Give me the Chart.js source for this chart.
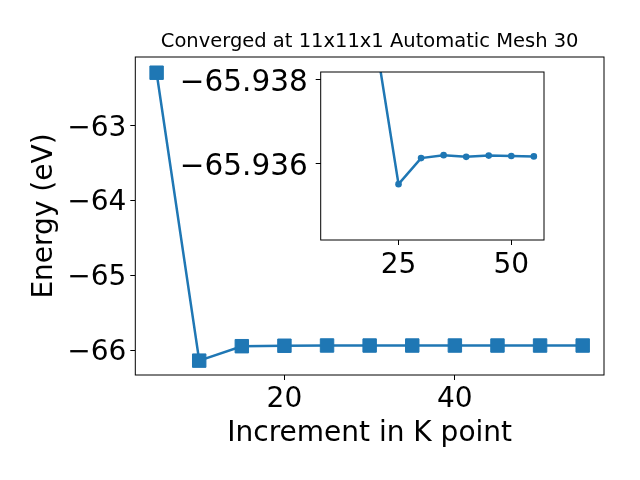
<!DOCTYPE html>
<html lang="en">
<head>
    <meta charset="UTF-8">
    <title>Converged at 11x11x1 Automatic Mesh 30</title>
    <script src="https://cdn.jsdelivr.net/npm/chart.js"></script>
    <style>
        body { margin: 0; background: #fff; }
        #wrap { position: relative; width: 640px; height: 480px; }
        canvas { position: absolute; left: 0; top: 0; }
        #inset { pointer-events: none; }
    </style>
</head>
<body>
    <div id="wrap">
        <canvas id="mainChart" width="640" height="480"></canvas>
        <canvas id="inset" width="640" height="480"></canvas>
    </div>

    <script>
        // k-point increments and total energies (eV)
        const kpoints = [5, 10, 15, 20, 25, 30, 35, 40, 45, 50, 55];
        const energy = [-62.29, -66.138, -65.945, -65.9389, -65.93552, -65.93614,
                        -65.93621, -65.93617, -65.9362, -65.93619, -65.93618];
        // the inset starts at the second point
        const insetK = kpoints.slice(1);
        const insetE = energy.slice(1);
        // tick labels
        const mainXTicks = [20, 40];
        const mainYTicks = [-66, -65, -64, -63];
        const insetXTicks = [25, 50];
        const insetYTicks = [-65.938, -65.936];

        const blue = '#1f77b4';
        Chart.defaults.font.family = "'DejaVu Sans', sans-serif";
        Chart.defaults.color = '#000';

        const minus = v => (v < 0 ? '\u2212' : '') + Math.abs(v);
        const setTicks = list => s => { s.ticks = list.map(v => ({ value: v })); };

        // box round the axes, like matplotlib spines
        const frame = {
            id: 'frame',
            beforeDraw(chart, args, opts) {
                if (opts.fill) {
                    const a = chart.chartArea;
                    chart.ctx.save();
                    chart.ctx.fillStyle = opts.fill;
                    chart.ctx.fillRect(a.left, a.top, a.right - a.left, a.bottom - a.top);
                    chart.ctx.restore();
                }
            },
            afterDraw(chart) {
                const a = chart.chartArea;
                const ctx = chart.ctx;
                ctx.save();
                ctx.strokeStyle = '#000';
                ctx.lineWidth = 1;
                ctx.strokeRect(a.left, a.top, a.right - a.left, a.bottom - a.top);
                ctx.restore();
            }
        };

        const pts = (xs, ys) => xs.map((x, i) => ({x: x, y: ys[i]}));

        new Chart(document.getElementById('mainChart'), {
            type: 'line',
            data: {
                datasets: [{
                    data: pts(kpoints, energy),
                    borderColor: blue,
                    backgroundColor: blue,
                    borderWidth: 2.5,
                    pointStyle: 'rect',
                    pointRadius: 9.5,
                    pointBorderWidth: 1,
                    tension: 0
                }]
            },
            options: {
                responsive: false,
                animation: false,
                devicePixelRatio: 1,
                layout: { padding: { left: 0, right: 36, top: 0, bottom: 0 } },
                plugins: {
                    legend: { display: false },
                    tooltip: { enabled: false },
                    title: {
                        display: true,
                        text: 'Converged at 11x11x1 Automatic Mesh 30',
                        fullSize: false,
                        font: { size: 19.5, weight: 'normal' },
                        padding: { top: 30, bottom: 3.6 }
                    }
                },
                scales: {
                    x: {
                        type: 'linear',
                        min: 2.5, max: 57.5,
                        afterBuildTicks: setTicks(mainXTicks),
                        ticks: { font: { size: 28 }, padding: 3, maxRotation: 0, callback: minus },
                        grid: { drawOnChartArea: false, color: '#000', tickLength: 5 },
                        border: { display: false },
                        title: { display: true, text: 'Increment in K point', font: { size: 28 }, padding: { top: 0, bottom: 29 } },
                        afterFit: s => { s.height = 105; }
                    },
                    y: {
                        min: -66.33, max: -62.08,
                        afterBuildTicks: setTicks(mainYTicks),
                        ticks: { font: { size: 28 }, padding: 4, labelOffset: 2.5, callback: minus },
                        grid: { drawOnChartArea: false, color: '#000', tickLength: 5 },
                        border: { display: false },
                        title: { display: true, text: 'Energy (eV)', font: { size: 28 }, padding: { top: 28, bottom: 0 } },
                        afterFit: s => { s.width = 135.3; }
                    }
                }
            },
            plugins: [frame]
        });

        // zoomed inset, y axis reversed
        new Chart(document.getElementById('inset'), {
            type: 'line',
            data: {
                datasets: [{
                    data: pts(insetK, insetE),
                    borderColor: blue,
                    backgroundColor: blue,
                    borderWidth: 2.5,
                    pointRadius: 3.3,
                    pointBorderWidth: 0,
                    tension: 0
                }]
            },
            options: {
                responsive: false,
                animation: false,
                devicePixelRatio: 1,
                layout: { padding: { left: 0, right: 96, top: 72, bottom: 0 } },
                plugins: {
                    legend: { display: false },
                    tooltip: { enabled: false },
                    frame: { fill: '#fff' }
                },
                scales: {
                    x: {
                        type: 'linear',
                        min: 7.75, max: 57.25,
                        afterBuildTicks: setTicks(insetXTicks),
                        ticks: { font: { size: 28 }, padding: 4, maxRotation: 0 },
                        grid: { drawOnChartArea: false, color: '#000', tickLength: 5 },
                        border: { display: false },
                        afterFit: s => { s.height = 240; }
                    },
                    y: {
                        reverse: true,
                        min: -65.93819, max: -65.93419,
                        afterBuildTicks: setTicks(insetYTicks),
                        ticks: {
                            font: { size: 29.5 }, padding: 8, labelOffset: 3,
                            callback: v => (v < 0 ? '\u2212' : '') + Math.abs(v).toFixed(3)
                        },
                        grid: { drawOnChartArea: false, color: '#000', tickLength: 5 },
                        border: { display: false },
                        afterFit: s => { s.width = 320.7; }
                    }
                }
            },
            plugins: [frame]
        });
    </script>
</body>
</html>
